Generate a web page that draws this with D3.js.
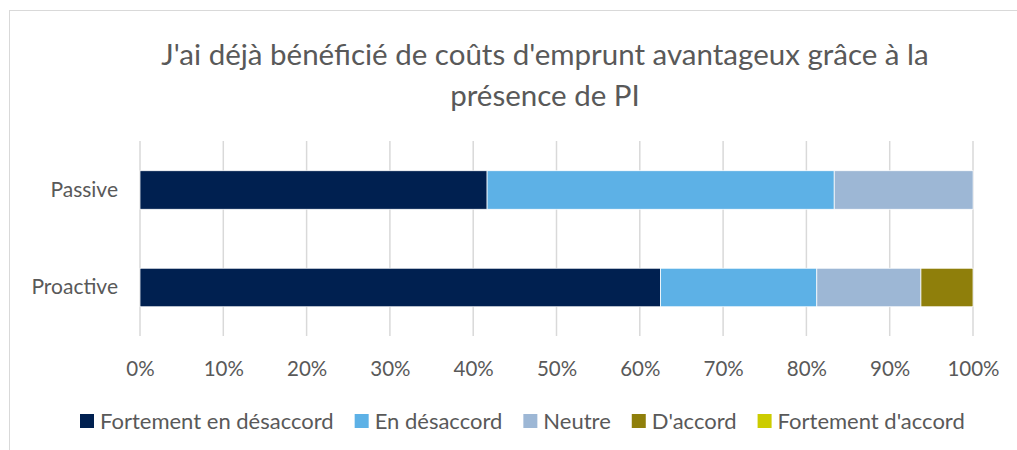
<!DOCTYPE html>
<html>
<head>
<meta charset="utf-8">
<script src="https://cdn.jsdelivr.net/npm/d3@7"></script>
<style>
  body { margin: 0; background: #fff; }
  text { font-family: Lato, "Open Sans", sans-serif; fill: #595959; }
</style>
</head>
<body>
<svg width="1017" height="450"></svg>
<script>
// data
var categories = ["Passive", "Proactive"];
var seriesNames = ["Fortement en désaccord", "En désaccord", "Neutre", "D'accord", "Fortement d'accord"];
var passiveValues = [41.67, 41.67, 16.67, 0, 0];
var proactiveValues = [62.5, 18.75, 12.5, 6.25, 0];
var tickValues = [0, 10, 20, 30, 40, 50, 60, 70, 80, 90, 100];
var titleLines = ["J'ai déjà bénéficié de coûts d'emprunt avantageux grâce à la", "présence de PI"];
var colors = ["#002050", "#5DB1E6", "#9DB7D5", "#8F7F0B", "#CCCC00"];

var svg = d3.select("svg"),
    width = +svg.attr("width"),
    height = +svg.attr("height");

// chart border
svg.append("rect")
    .attr("x", 9.5).attr("y", 10.5)
    .attr("width", 1030).attr("height", 470)
    .attr("fill", "none")
    .attr("stroke", "#D9D9D9");

// title
svg.append("text")
    .attr("x", 545).attr("y", 65)
    .attr("text-anchor", "middle")
    .style("font-size", "29.5px")
    .text(titleLines[0]);
svg.append("text")
    .attr("x", 545).attr("y", 106)
    .attr("text-anchor", "middle")
    .style("font-size", "29.5px")
    .text(titleLines[1]);

var x = d3.scaleLinear()
    .domain([0, 100])
    .range([140, 973]);

var y = d3.scaleBand()
    .domain(categories)
    .range([141, 336.5])
    .paddingInner(0.605)
    .paddingOuter(0.305);

// gridlines
svg.append("g")
  .selectAll("line")
    .data(tickValues)
  .enter().append("line")
    .attr("x1", function(d) { return x(d); })
    .attr("x2", function(d) { return x(d); })
    .attr("y1", 141)
    .attr("y2", 336)
    .attr("stroke", "#D9D9D9")
    .attr("stroke-width", 1.5);

// tick labels
var xAxis = d3.axisBottom(x)
    .tickValues(tickValues)
    .tickSize(0)
    .tickPadding(0)
    .tickFormat(function(d) { return d + "%"; });

var gx = svg.append("g")
    .attr("transform", "translate(0,361)")
    .call(xAxis);
gx.select(".domain").remove();
gx.selectAll("text")
    .attr("fill", "#595959")
    .style("font-family", "Lato, sans-serif")
    .style("font-size", "20.5px");

// category labels
var yAxis = d3.axisLeft(y).tickSize(0).tickPadding(0);
var gy = svg.append("g")
    .attr("transform", "translate(118,0)")
    .call(yAxis);
gy.select(".domain").remove();
gy.selectAll("text")
    .attr("fill", "#595959")
    .style("font-family", "Lato, sans-serif")
    .style("font-size", "21px");

// stacked bars
var rows = categories.map(function(c, i) {
  var vals = i === 0 ? passiveValues : proactiveValues;
  var row = { category: c };
  seriesNames.forEach(function(s, j) { row[s] = vals[j]; });
  return row;
});

var stack = d3.stack().keys(seriesNames);
var layers = stack(rows);

svg.append("g")
  .selectAll("g")
    .data(layers)
  .enter().append("g")
    .attr("fill", function(d, i) { return colors[i]; })
  .selectAll("rect")
    .data(function(d) { return d; })
  .enter().append("rect")
    .attr("x", function(d) { return x(d[0]); })
    .attr("y", function(d) { return y(d.data.category); })
    .attr("width", function(d) { return Math.max(0, x(d[1]) - x(d[0])); })
    .attr("height", y.bandwidth())
    .attr("stroke", "#fff")
    .attr("stroke-width", function(d) { return d[1] > d[0] ? 0.75 : 0; });

// legend
var legend = svg.append("g");
var lx = 80;
seriesNames.forEach(function(s, i) {
  var item = legend.append("g").attr("transform", "translate(" + lx + ",0)");
  item.append("rect")
      .attr("x", 0).attr("y", 414)
      .attr("width", 14).attr("height", 14)
      .attr("fill", colors[i]);
  var t = item.append("text")
      .attr("x", 20).attr("y", 429)
      .style("font-size", "22px")
      .text(s);
  lx += 20 + t.node().getComputedTextLength() + 21;
});
</script>
</body>
</html>
